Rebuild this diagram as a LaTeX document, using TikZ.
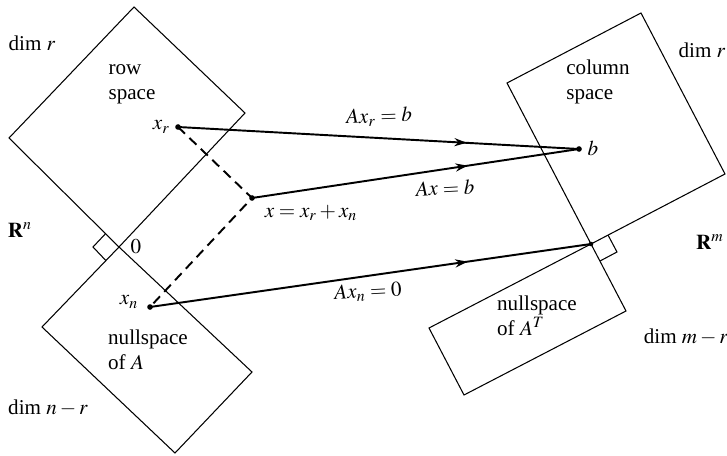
\documentclass[tikz,border=0pt]{standalone}
\usepackage{mathptmx}
\usepackage{fontspec}
\setmainfont{Liberation Serif}
\usepackage{tikz}
\usetikzlibrary{arrows.meta,decorations.markings}
\tikzset{
  subspace/.style={draw, line width=0.6pt, line join=miter},
  dotpt/.style={circle, fill, inner sep=0pt, minimum size=3.2pt},
  lbl/.style={inner sep=0pt, font=\fontsize{12}{14}\selectfont},
  maparrow/.style={line width=1.1pt, postaction={decorate},
    decoration={markings, mark=at position #1 with {\arrow{Stealth[length=7pt,width=4.6pt]}}}},
  splitline/.style={line width=1.1pt, dash pattern=on 5.5pt off 3.5pt},
  rightangle/.style={line width=0.6pt}
}

\begin{document}
\begin{tikzpicture}[x=0.02cm, y=-0.02cm]
      \useasboundingbox (0,0) rectangle (727,456);
      % the two origins
      \coordinate (zn) at (119,247);
      \coordinate (zm) at (591,244);
      % subspaces of R^n
      \draw[subspace] (134,7) -- (245,113) -- (zn) -- (9,138) -- cycle;
      \draw[subspace] (zn) -- (252,372) -- (175,453) -- (42,327) -- cycle;
      \draw[rightangle] (105.5,233.7) -- (93,247) -- (106,260.7);
      % subspaces of R^m
      \draw[subspace] (641,13) -- (725,174) -- (zm) -- (507,83) -- cycle;
      \draw[subspace] (zm) -- (626,311) -- (464,395) -- (429,328) -- cycle;
      \draw[rightangle] (608,235) -- (617,252) -- (600,261);
      % points
      \node[dotpt] (xr) at (178,127) {};
      \node[dotpt] (xx) at (252,198) {};
      \node[dotpt] (xn) at (150,307) {};
      \node[dotpt] (bb) at (579,149) {};
      \node[dotpt, minimum size=2.6pt] (zmdot) at (zm) {};
      % splitting x
      \draw[splitline] (xr.center) -- (xx.center) -- (xn.center);
      % the maps
      \draw[maparrow=0.72] (xr.center) -- (bb.center);
      \draw[maparrow=0.66] (xx.center) -- (bb.center);
      \draw[maparrow=0.72] (xn.center) -- (zmdot.center);
      % labels
      \node[lbl] (dimrl) at (32,43) {dim $r$};
      \node[lbl, align=left] (rowsp) at (132,84) {row\\space};
      \node[lbl, anchor=east] (xrlbl) at (170,127) {$x_r$};
      \node[lbl] (rn) at (20,230) {$\mathbf{R}^n$};
      \node[lbl] (zlbl) at (136,247) {$0$};
      \node[lbl] (xnlbl) at (129,302) {$x_n$};
      \node[lbl, align=left] (nullsp) at (148,350) {nullspace\\of $A$};
      \node[lbl] (dimnr) at (48,408) {dim $n-r$};
      \node[lbl, rotate=2] (mapr) at (379,117) {$Ax_r = b$};
      \node[lbl] (blbl) at (593,148) {$b$};
      \node[lbl, rotate=3] (mapx) at (445,188) {$Ax = b$};
      \node[lbl] (xsum) at (311,213) {$x = x_r + x_n$};
      \node[lbl, rotate=3] (mapn) at (368,292) {$Ax_n = 0$};
      \node[lbl, align=left] (colsp) at (598,82) {column\\space};
      \node[lbl] (dimrr) at (702,50) {dim $r$};
      \node[lbl] (rm) at (710,242) {$\mathbf{R}^m$};
      \node[lbl, align=left] (lnullsp) at (537,316) {nullspace\\of $A^T$};
      \node[lbl] (dimmr) at (686,337) {dim $m-r$};
\end{tikzpicture}
\end{document}
